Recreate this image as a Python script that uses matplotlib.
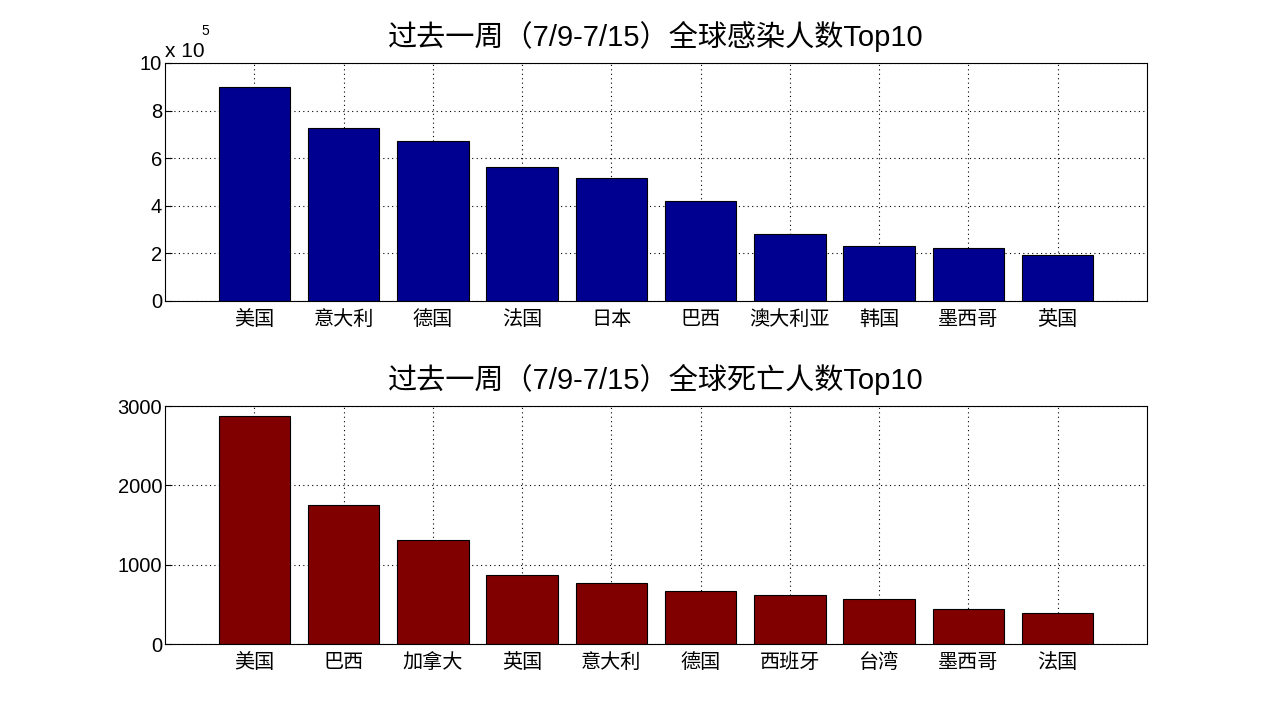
import matplotlib
matplotlib.use("Agg")
import matplotlib.pyplot as plt
import numpy as np
from matplotlib.ticker import FuncFormatter

plt.rcParams['font.family'] = ['Liberation Sans', 'Noto Sans CJK SC']

title_top = "过去一周（7/9-7/15）全球感染人数Top10"
title_bottom = "过去一周（7/9-7/15）全球死亡人数Top10"

cases_countries = ["美国", "意大利", "德国", "法国", "日本", "巴西", "澳大利亚", "韩国", "墨西哥", "英国"]
cases_values = [899000, 727000, 672000, 563000, 517000, 420000, 282000, 231000, 223000, 193000]

deaths_countries = ["美国", "巴西", "加拿大", "英国", "意大利", "德国", "西班牙", "台湾", "墨西哥", "法国"]
deaths_values = [2874, 1752, 1311, 870, 769, 668, 618, 567, 441, 395]

fig = plt.figure(figsize=(12.68, 7.24), dpi=100)
W, H = 1268, 724
ax1 = fig.add_axes([165 / W, 1 - 301 / H, (1147 - 165) / W, (301 - 63) / H])
ax2 = fig.add_axes([165 / W, 1 - 644 / H, (1147 - 165) / W, (644 - 406) / H])

def style(ax, countries, values, color, title, ylim, yticks):
    x = np.arange(1, len(countries) + 1)
    ax.bar(x, values, width=0.8, color=color, edgecolor='black', linewidth=0.8, zorder=2)
    ax.set_xlim(0, 11)
    ax.set_ylim(*ylim)
    ax.set_xticks(x)
    ax.set_xticklabels(countries, fontsize=14, family=['Noto Sans CJK SC'])
    ax.set_yticks(yticks)
    ax.tick_params(direction='in', length=5, labelsize=14.5, width=0.8, pad=2)
    ax.tick_params(axis='x', pad=6)
    ax.grid(True, linestyle=(0, (1, 3)), color='black', linewidth=0.8, zorder=0)
    ax.set_axisbelow(True)
    for s in ax.spines.values():
        s.set_linewidth(0.8)
    ax.set_title(title, fontsize=21, pad=12)

style(ax1, cases_countries, cases_values, '#000090', title_top, (0, 1000000),
      [0, 200000, 400000, 600000, 800000, 1000000])
ax1.yaxis.set_major_formatter(FuncFormatter(lambda v, p: f"{v / 1e5:g}"))
fig.text(165 / W, 1 - 57 / H, "x 10", fontsize=15, ha='left', va='baseline')
fig.text(201 / W, 1 - 35 / H, "5", fontsize=10, ha='left', va='baseline')

style(ax2, deaths_countries, deaths_values, '#800000', title_bottom, (0, 3000),
      [0, 1000, 2000, 3000])

fig.savefig("out.png", dpi=100)
